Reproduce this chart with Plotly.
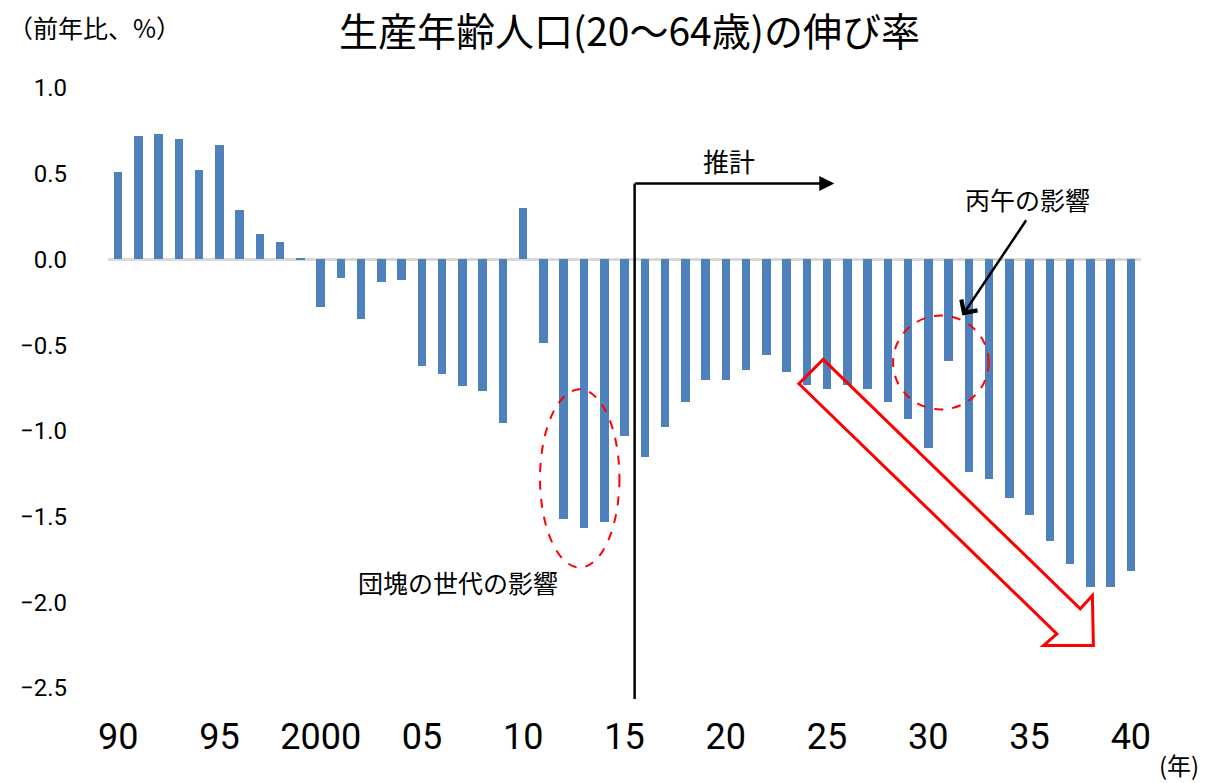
import plotly.graph_objects as go

# data
years = list(range(1990, 2041))
growth = [
    0.51, 0.72, 0.73, 0.70, 0.52, 0.67, 0.29, 0.15, 0.10, 0.01,
    -0.28, -0.11, -0.35, -0.13, -0.12, -0.62, -0.67, -0.74, -0.77, -0.955,
    0.30, -0.49, -1.515, -1.565, -1.53, -1.03, -1.15, -0.98, -0.83, -0.705,
    -0.705, -0.645, -0.555, -0.655, -0.73, -0.755, -0.73, -0.755, -0.83, -0.93,
    -1.10, -0.59, -1.24, -1.28, -1.39, -1.49, -1.64, -1.775, -1.91, -1.91,
    -1.815,
]
tick_years = [1990, 1995, 2000, 2005, 2010, 2015, 2020, 2025, 2030, 2035, 2040]
tick_text = ["90", "95", "2000", "05", "10", "15", "20", "25", "30", "35", "40"]
y_ticks = [1.0, 0.5, 0.0, -0.5, -1.0, -1.5, -2.0, -2.5]

BAR_COLOR = "#4F81BD"
JP = "Noto Sans CJK JP"

fig = go.Figure()
fig.add_trace(
    go.Bar(
        x=years,
        y=growth,
        width=0.42,
        marker=dict(color=BAR_COLOR, line=dict(width=0)),
        hoverinfo="x+y",
    )
)

# page body adds an 8px margin, so the figure is 8px smaller than the window
fig.update_layout(
    width=1200,
    height=775,
    margin=dict(l=95, r=67, t=80, b=95),
    paper_bgcolor="white",
    plot_bgcolor="white",
    showlegend=False,
    bargap=0,
)
fig.update_xaxes(
    range=[1989.5, 2040.5],
    tickvals=tick_years,
    ticktext=tick_text,
    showgrid=False,
    showline=False,
    zeroline=False,
    ticks="",
    ticklabelstandoff=24,
    tickfont=dict(family="Liberation Sans Narrow, Roboto", size=36, color="black"),
)
fig.update_yaxes(
    range=[-2.5, 1.0],
    tickvals=y_ticks,
    tickformat=".1f",
    showgrid=False,
    showline=False,
    zeroline=True,
    zerolinecolor="#d9d9d9",
    zerolinewidth=2.5,
    ticks="",
    ticklabelstandoff=40,
    tickfont=dict(family="Roboto", size=24, color="black"),
)

annotations = [
    # title and unit labels
    dict(text="生産年齢人口(20～64歳)の伸び率", x=0.505, y=1.099, xref="paper", yref="paper",
         xanchor="center", yanchor="middle", showarrow=False,
         font=dict(family=JP, size=39, color="black")),
    dict(text="（前年比、%）", x=-0.099, y=1.102, xref="paper", yref="paper",
         xanchor="left", yanchor="middle", showarrow=False,
         font=dict(family=JP, size=25, color="black")),
    dict(text="(年)", x=1.037, y=-0.127, xref="paper", yref="paper",
         xanchor="center", yanchor="middle", showarrow=False,
         font=dict(family=JP, size=24, color="black")),
    # estimate marker
    dict(text="推計", x=2020.15, y=0.58, xref="x", yref="y",
         xanchor="center", yanchor="middle", showarrow=False,
         font=dict(family=JP, size=26, color="black")),
    dict(text="", x=2015.5, y=0.443, ax=2015.5, ay=-2.573,
         xref="x", yref="y", axref="x", ayref="y",
         showarrow=True, arrowhead=0, arrowwidth=2.5, arrowcolor="black"),
    dict(text="", x=2025.36, y=0.443, ax=2015.45, ay=0.443,
         xref="x", yref="y", axref="x", ayref="y",
         showarrow=True, arrowhead=2, arrowsize=1.2, arrowwidth=2.5, arrowcolor="black"),
    # hinoeuma effect
    dict(text="丙午の影響", x=2034.9, y=0.355, xref="x", yref="y",
         xanchor="center", yanchor="middle", showarrow=False,
         font=dict(family=JP, size=25, color="black")),
    dict(text="", x=2031.68, y=-0.327, ax=2034.88, ay=0.237,
         xref="x", yref="y", axref="x", ayref="y",
         showarrow=True, arrowhead=4, arrowsize=1.5, arrowwidth=2.5, arrowcolor="black"),
    # baby boomer effect
    dict(text="団塊の世代の影響", x=2006.8, y=-1.88, xref="x", yref="y",
         xanchor="center", yanchor="middle", showarrow=False,
         font=dict(family=JP, size=25, color="black")),
]
fig.update_layout(annotations=annotations)

shapes = [
    dict(type="circle", xref="x", yref="y", x0=2010.83, x1=2014.75, y0=-1.797, y1=-0.758,
         line=dict(color="red", width=2, dash="dash")),
    dict(type="circle", xref="x", yref="y", x0=2028.26, x1=2032.98, y0=-0.875, y1=-0.327,
         line=dict(color="red", width=2, dash="dash")),
    dict(type="path", xref="x", yref="y",
         path="M 2024.81,-0.583 L 2023.61,-0.725 L 2036.35,-2.184 L 2035.69,-2.252 "
              "L 2038.15,-2.252 L 2038.10,-1.960 L 2037.50,-2.038 Z",
         line=dict(color="red", width=3), fillcolor="rgba(0,0,0,0)"),
]
fig.update_layout(shapes=shapes)

fig.write_html("out.html")
